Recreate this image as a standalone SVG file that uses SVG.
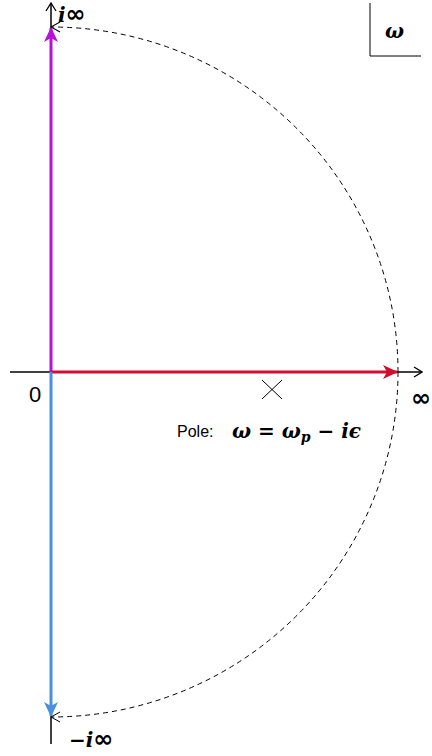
<svg xmlns="http://www.w3.org/2000/svg" width="432" height="756" viewBox="0 0 432 756">
<style>
.ax{stroke:#000;stroke-width:1.5;fill:none}
.m{font-family:"DejaVu Serif","Liberation Serif",serif;font-style:italic;font-weight:bold;fill:#000}
.inf{font-family:"DejaVu Sans",sans-serif;font-weight:bold;font-style:normal}
.t{font-family:"Liberation Sans",Arial,sans-serif;fill:#000}
</style>
<defs>
<marker id="open" markerWidth="10" markerHeight="12" refX="9" refY="6" orient="auto" markerUnits="userSpaceOnUse">
<path d="M1,1 L9,6 L1,11" fill="none" stroke="#000" stroke-width="1.3"/>
</marker>
<marker id="openT" markerWidth="12" markerHeight="12" refX="10" refY="6" orient="auto" markerUnits="userSpaceOnUse">
<path d="M1,1 L10,6 L1,11" fill="none" stroke="#000" stroke-width="1"/>
</marker>
<marker id="pur" markerWidth="16" markerHeight="14" refX="14" refY="7" orient="auto" markerUnits="userSpaceOnUse">
<path d="M0,0 L15,7 L0,14 L4,7 Z" fill="#b711d8"/>
</marker>
<marker id="red" markerWidth="16" markerHeight="14" refX="14" refY="7" orient="auto" markerUnits="userSpaceOnUse">
<path d="M0,0 L15,7 L0,14 L4,7 Z" fill="#d40c2e"/>
</marker>
<marker id="blu" markerWidth="16" markerHeight="14" refX="14" refY="7" orient="auto" markerUnits="userSpaceOnUse">
<path d="M0,0 L15,7 L0,14 L4,7 Z" fill="#4a90e2"/>
</marker>
</defs>
<g id="connectors">
<line class="ax" x1="51" y1="30" x2="51" y2="3" marker-end="url(#open)"/>
<line class="ax" x1="51" y1="715" x2="51" y2="744"/>
<line class="ax" x1="10" y1="372" x2="51" y2="372"/>
<line class="ax" x1="396" y1="372" x2="422" y2="372" marker-end="url(#open)"/>
<path d="M398,372 A347,345 0 0 0 51,27" fill="none" stroke="#000" stroke-width="1" stroke-dasharray="5,4" marker-end="url(#openT)"/>
<path d="M398,372 A347,345 0 0 1 51,717" fill="none" stroke="#000" stroke-width="1" stroke-dasharray="5,4" marker-end="url(#openT)"/>
<line x1="51" y1="372" x2="51" y2="28" stroke="#b711d8" stroke-width="3" marker-end="url(#pur)"/>
<line x1="51" y1="372" x2="397" y2="372" stroke="#d40c2e" stroke-width="3" marker-end="url(#red)"/>
<line x1="51" y1="372" x2="51" y2="716" stroke="#4a90e2" stroke-width="3" marker-end="url(#blu)"/>
</g>
<g id="pole">
<path d="M262,380 L282,399 M282,380 L262,399" stroke="#000" stroke-width="1"/>
<text class="t" x="177" y="437" font-size="16">Pole:</text>
<text class="m" x="232" y="438" font-size="20">ω = ω<tspan font-size="14" dy="4">p</tspan><tspan dy="-4"> − iϵ</tspan></text>
</g>
<g id="labels">
<text class="m" x="58" y="22" font-size="20">i<tspan class="inf" font-size="24">∞</tspan></text>
<text class="t" x="29" y="402" font-size="22">0</text>
<text class="m inf" x="411" y="406" font-size="24">∞</text>
<text class="m" x="69" y="747" font-size="20">−i<tspan class="inf" font-size="24">∞</tspan></text>
</g>
<g id="omega-box">
<path d="M370,3 L370,56 L421,56" fill="none" stroke="#000" stroke-width="1"/>
<text class="m" x="385" y="38" font-size="20">ω</text>
</g>
</svg>
